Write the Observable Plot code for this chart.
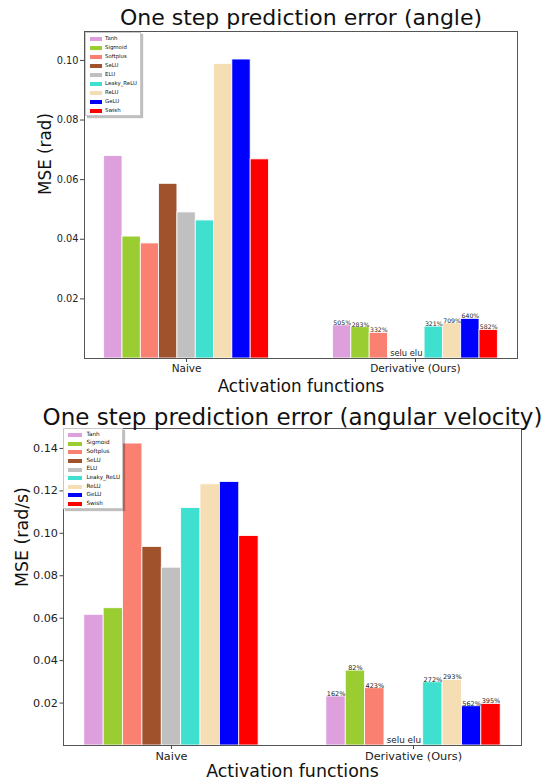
<!DOCTYPE html>
<html><head><meta charset="utf-8">
<script src="https://cdn.jsdelivr.net/npm/d3@7"></script>
<script src="https://cdn.jsdelivr.net/npm/@observablehq/plot@0.6"></script>
<style>
body{margin:0;background:#fff;font-family:"DejaVu Sans",sans-serif}
#wrap{position:relative;width:551px;height:780px;overflow:hidden;background:#fff}
.panel{position:relative;width:551px}
.panel svg{display:block}
.legend{position:absolute;background:#fff;border:1px solid #c8c8c8;box-shadow:2px 2px 1px rgba(0,0,0,0.25);box-sizing:border-box}
.sw{position:absolute}
.lt{position:absolute;white-space:nowrap;color:#111;line-height:1}
</style></head><body><div id="wrap"></div>
<script>
// ---- data ----
const activations = ["Tanh","Sigmoid","Softplus","SeLU","ELU","Leaky_ReLU","ReLU","GeLU","Swish"];
const activationColors = ["#dda0dd","#9acd32","#fa8072","#a0522d","#c0c0c0","#40e0d0","#f5deb3","#0000ff","#ff0000"];
const groups = ["Naive","Derivative (Ours)"];
const xAxisTitle = "Activation functions";

const angleTitle = "One step prediction error (angle)";
const angleYLabel = "MSE (rad)";
const angleNaive = [0.0679,0.0409,0.0386,0.0586,0.0490,0.0463,0.0988,0.1003,0.0668];
const angleDeriv = [0.0111,0.0105,0.0086,null,null,0.0107,0.0118,0.0133,0.0096];
const angleGain  = ["505%","283%","332%",null,null,"321%","709%","640%","582%"];
const angleTicks = [0.02,0.04,0.06,0.08,0.10];

const velTitle = "One step prediction error (angular velocity)";
const velYLabel = "MSE (rad/s)";
const velNaive = [0.0616,0.0647,0.1423,0.0936,0.0838,0.1119,0.1231,0.1242,0.0987];
const velDeriv = [0.0231,0.0353,0.0270,null,null,0.0298,0.0309,0.0185,0.0196];
const velGain  = ["162%","82%","423%",null,null,"272%","293%","562%","395%"];
const velTicks = [0.02,0.04,0.06,0.08,0.10,0.12,0.14];

const missingNote = "selu elu";

// ---- drawing ----
const barWidth = 0.08;
const wrap = document.getElementById("wrap");

function drawPanel(cfg) {
  const rows = [];
  activations.forEach((act, i) => {
    rows.push({group: 0, i, act, v: cfg.naive[i], label: null});
    if (cfg.deriv[i] != null) rows.push({group: 1, i, act, v: cfg.deriv[i], label: cfg.gain[i]});
  });
  const x1 = d => d.group + (d.i - 4.5) * barWidth;
  const x2 = d => d.group + (d.i - 3.5) * barWidth;
  const xc = d => d.group + (d.i - 4) * barWidth;
  const missingIdx = cfg.deriv.map((v, i) => v == null ? i : -1).filter(i => i >= 0);
  const noteX = 1 + (d3.mean(missingIdx) - 4) * barWidth;

  const plot = Plot.plot({
    width: 551, height: cfg.height,
    marginLeft: cfg.ml, marginRight: cfg.mr, marginTop: cfg.mt, marginBottom: cfg.mb,
    style: {fontFamily: "DejaVu Sans", background: "white", color: "#222", overflow: "visible"},
    x: {domain: [-0.446, 1.446], label: null},
    y: {domain: [0, cfg.ymax], label: null},
    color: {domain: activations, range: activationColors},
    marks: [
      Plot.rectY(rows, {x1, x2, y1: 0, y2: "v", fill: "act", stroke: "white", strokeWidth: 0.8}),
      Plot.text(rows.filter(d => d.label), {x: xc, y: "v", text: "label", dy: -0.5, lineAnchor: "bottom", fontSize: cfg.pctSize, fill: "#222"}),
      Plot.text([missingNote], {x: [noteX], y: [0], text: d => d, dy: cfg.noteDy, lineAnchor: "bottom", fontSize: cfg.noteSize, fill: "#222"}),
      Plot.frame({stroke: "#555", strokeWidth: 1}),
      Plot.axisY({ticks: cfg.ticks, tickFormat: d3.format(".2f"), tickSize: cfg.tickSize, tickPadding: cfg.tickPad, fontSize: cfg.tickFont, stroke: "#444"}),
      Plot.axisX({ticks: [0, 1], tickFormat: d => groups[d], tickSize: 4, tickPadding: 2, fontSize: cfg.xTickFont, stroke: "#444"}),
      Plot.text([cfg.title], {frameAnchor: "top", dy: cfg.titleDy, lineAnchor: "bottom", fontSize: cfg.titleSize, fill: "#111"}),
      Plot.text([xAxisTitle], {frameAnchor: "bottom", dy: cfg.xlabDy, lineAnchor: "bottom", fontSize: cfg.labSize, fill: "#111"}),
      Plot.text([cfg.ylab], {frameAnchor: "left", dx: cfg.ylabDx, rotate: -90, lineAnchor: "middle", fontSize: cfg.labSize, fill: "#111"})
    ]
  });
  const panel = document.createElement("div");
  panel.className = "panel";
  panel.style.height = cfg.height + "px";
  panel.appendChild(plot);

  // legend
  const lg = document.createElement("div");
  lg.className = "legend";
  Object.assign(lg.style, {left: cfg.lg.x + "px", top: cfg.lg.y + "px", width: cfg.lg.w + "px", height: cfg.lg.h + "px"});
  activations.forEach((a, i) => {
    const cy = cfg.lg.row0 + i * cfg.lg.step;
    const sw = document.createElement("div");
    sw.className = "sw";
    Object.assign(sw.style, {left: cfg.lg.swx + "px", top: (cy - cfg.lg.swh / 2) + "px", width: cfg.lg.sww + "px", height: cfg.lg.swh + "px", background: activationColors[i]});
    const t = document.createElement("div");
    t.className = "lt";
    t.textContent = a;
    Object.assign(t.style, {left: cfg.lg.tx + "px", top: (cy - cfg.lg.fs * 0.55) + "px", fontSize: cfg.lg.fs + "px"});
    lg.appendChild(sw); lg.appendChild(t);
  });
  panel.appendChild(lg);
  wrap.appendChild(panel);
}

drawPanel({
  naive: angleNaive, deriv: angleDeriv, gain: angleGain, ticks: angleTicks, ymax: 0.1097,
  title: angleTitle, ylab: angleYLabel,
  height: 400, ml: 84, mr: 34, mt: 31, mb: 42,
  pctSize: 6.2, noteSize: 8.3, noteDy: -2.5,
  tickSize: 4, tickPad: 2, tickFont: 9.8, xTickFont: 10.5,
  titleDy: -7, titleSize: 22, xlabDy: 33, labSize: 16.8, ylabDx: -39,
  lg: {x: 85, y: 32, w: 56, h: 84, row0: 6.3, step: 8.95, swx: 4, sww: 12, swh: 4, tx: 19, fs: 5.4}
});
drawPanel({
  naive: velNaive, deriv: velDeriv, gain: velGain, ticks: velTicks, ymax: 0.1494,
  title: velTitle, ylab: velYLabel,
  height: 380, ml: 63, mr: 30, mt: 28, mb: 35,
  pctSize: 6.5, noteSize: 8.8, noteDy: -3,
  tickSize: 3.5, tickPad: 2, tickFont: 11.2, xTickFont: 11.3,
  titleDy: -4, titleSize: 23, xlabDy: 31.5, labSize: 17.4, ylabDx: -41,
  lg: {x: 63, y: 28, w: 60, h: 81, row0: 6, step: 8.63, swx: 4, sww: 14, swh: 4, tx: 22.5, fs: 5.7}
});
</script></body></html>
